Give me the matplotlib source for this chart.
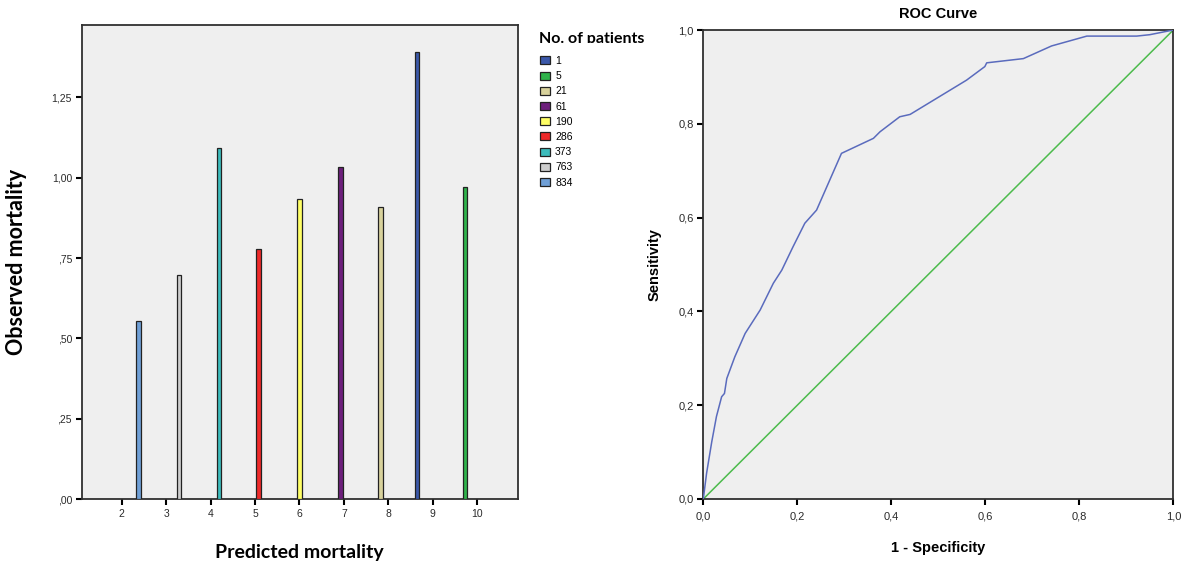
import matplotlib
matplotlib.use("Agg")
import matplotlib.pyplot as plt
from matplotlib.patches import Patch, Rectangle
from matplotlib.ticker import FuncFormatter

# calibration plot data (one bar per decile of predicted mortality)
patients = [834, 763, 373, 286, 190, 61, 21, 1, 5]
predicted = [2.38, 3.29, 4.19, 5.08, 6.00, 6.92, 7.82, 8.64, 9.72]
observed = [0.554, 0.698, 1.091, 0.779, 0.933, 1.032, 0.908, 1.392, 0.971]
bar_colors = ['#6f9fd6', '#cdcdcd', '#3cbcbc', '#ee2a2a', '#ffff66',
              '#6d1f7c', '#d8d29c', '#3b58aa', '#2fb34b']
x_ticks = [2, 3, 4, 5, 6, 7, 8, 9, 10]
y_ticks = [0.0, 0.25, 0.5, 0.75, 1.0, 1.25]

# ROC curve points
fpr = [0.0, 0.007, 0.018, 0.028, 0.039, 0.045, 0.050, 0.067, 0.089, 0.121,
       0.149, 0.167, 0.191, 0.216, 0.241, 0.294, 0.362, 0.376, 0.418, 0.440,
       0.560, 0.599, 0.603, 0.681, 0.741, 0.816, 0.922, 0.950, 1.0]
tpr = [0.0, 0.055, 0.122, 0.176, 0.218, 0.225, 0.257, 0.303, 0.353, 0.403,
       0.460, 0.488, 0.538, 0.588, 0.616, 0.737, 0.769, 0.783, 0.815, 0.820,
       0.893, 0.922, 0.930, 0.939, 0.966, 0.987, 0.987, 0.990, 1.0]
roc_ticks = [0.0, 0.2, 0.4, 0.6, 0.8, 1.0]

W, H = 1184, 564
BG = '#efefef'
FRAME = '#303030'
LABEL_FONT = 'Lato'

plt.rcParams['font.family'] = ['Liberation Sans', 'DejaVu Sans']


def spss_fmt(decimals):
    def f(v, pos):
        s = ('{:.%df}' % decimals).format(v).replace('.', ',')
        if decimals == 2 and s.startswith('0,'):
            s = s[1:]
        return s
    return FuncFormatter(f)


def style_axes(ax, size):
    ax.set_facecolor(BG)
    for sp in ax.spines.values():
        sp.set_color(FRAME)
        sp.set_linewidth(1.3)
    ax.tick_params(direction='out', length=4.5, width=1.5, color='black',
                   labelsize=size, labelcolor='#2a2a2a', pad=2.5)


fig = plt.figure(figsize=(W / 100, H / 100), dpi=100)

# left panel: observed vs predicted mortality
ax1 = fig.add_axes([81.7 / W, 1 - 499.3 / H, 436 / W, 474.8 / H])
ax1.bar(predicted, observed, width=0.1, color=bar_colors,
        edgecolor='#222222', linewidth=0.9, zorder=3)
ax1.set_xlim(1.1, 10.91)
ax1.set_ylim(0, 1.476)
ax1.set_xticks(x_ticks)
ax1.set_yticks(y_ticks)
ax1.yaxis.set_major_formatter(spss_fmt(2))
style_axes(ax1, 7.5)
ax1.set_xlabel('Predicted mortality', fontfamily=LABEL_FONT,
               fontweight='bold', fontsize=14, labelpad=18)
ax1.set_ylabel('Observed mortality', fontfamily=LABEL_FONT,
               fontweight='bold', fontsize=15.5, labelpad=18)

# legend, sorted by number of patients
order = sorted(range(len(patients)), key=lambda i: patients[i])
handles = [Patch(facecolor=bar_colors[i], edgecolor='#222222', linewidth=0.9,
                 label=str(patients[i])) for i in order]
fig.legend(handles=handles, loc='upper left',
           bbox_to_anchor=(540 / W, 1 - 56 / H), frameon=False,
           prop={'size': 7.5},
           handlelength=1.0, handleheight=0.8, handletextpad=0.45,
           labelspacing=0.5, borderpad=0, borderaxespad=0)
fig.text(539 / W, 1 - 43 / H, 'No. of patients', fontfamily=LABEL_FONT,
         fontweight='bold', fontsize=11.5, ha='left', va='baseline')
# the title is cut off at the baseline in the original
fig.add_artist(Rectangle((530 / W, 1 - 52 / H), 140 / W, 9 / H,
                         transform=fig.transFigure, facecolor='white',
                         edgecolor='none', zorder=10))

# right panel: ROC curve
ax2 = fig.add_axes([703.3 / W, 1 - 499 / H, 470 / W, 469 / H])
ax2.plot([0, 1], [0, 1], color='#4cbb4c', linewidth=1.1, zorder=2)
ax2.plot(fpr, tpr, color='#5a6bbd', linewidth=1.1, zorder=3)
ax2.set_xlim(0, 1)
ax2.set_ylim(0, 1)
ax2.set_xticks(roc_ticks)
ax2.set_yticks(roc_ticks)
ax2.xaxis.set_major_formatter(spss_fmt(1))
ax2.yaxis.set_major_formatter(spss_fmt(1))
style_axes(ax2, 8)
ax2.tick_params(axis='x', pad=4.5)
ax2.set_title('ROC Curve', fontweight='bold', fontsize=10.5, pad=9)
ax2.set_xlabel('1 - Specificity', fontweight='bold', fontsize=10.5,
               labelpad=14)
ax2.set_ylabel('Sensitivity', fontweight='bold', fontsize=10.5, labelpad=12)

fig.savefig('out.png', dpi=100, facecolor='white')
